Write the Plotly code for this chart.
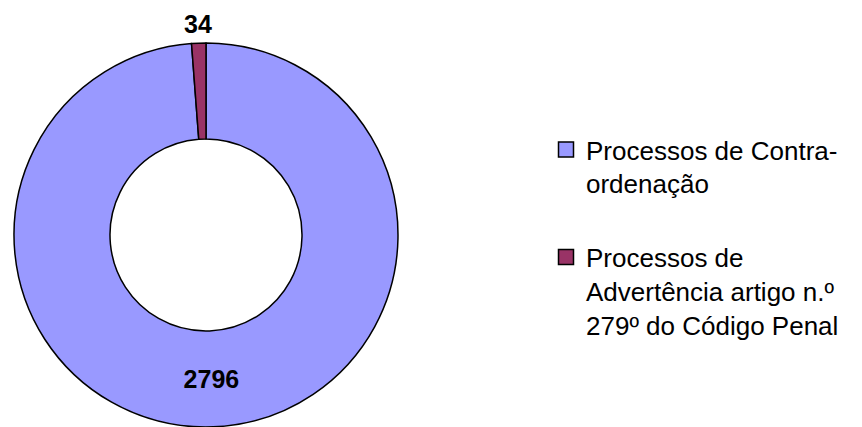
import math
import plotly.graph_objects as go

categories = ["Processos de Contra-<br>ordenação",
              "Processos de<br>Advertência artigo n.º<br>279º do Código Penal"]
values = [2796, 34]
colors = ["#9999FF", "#993366"]

# figure drawn inside the page's default 8px body margin
W, H = 854, 419
cx, cy, R = 198, 227, 192

fig = go.Figure()
fig.add_trace(go.Pie(
    labels=categories, values=values, sort=False, direction="clockwise", rotation=0,
    hole=0.5,
    marker=dict(colors=colors, line=dict(color="black", width=1.5)),
    textinfo="value", textposition=["inside", "none"],
    insidetextorientation="horizontal",
    textfont=dict(family="Liberation Sans, Arial, sans-serif", size=25, color="black", weight="bold"),
    domain=dict(x=[(cx - R) / W, (cx + R) / W],
                y=[max(0, (H - cy - R) / H), (H - cy + R) / H]),
    showlegend=False, hoverinfo="label+value",
))

# legend entries
for i, (lab, col) in enumerate(zip(categories, colors)):
    fig.add_trace(go.Scatter(
        x=[None], y=[None], mode="markers", name=lab, legendgroup=f"g{i}",
        marker=dict(symbol="square", size=15, color=col, line=dict(color="black", width=1.5)),
    ))

# outside label for the small slice
total = sum(values)
mid = (values[0] + values[1] / 2) / total * 2 * math.pi
rl = 211
lx = cx + rl * math.sin(mid)
ly = cy - rl * math.cos(mid)
fig.add_annotation(x=lx / W, y=(H - ly) / H, xref="paper", yref="paper",
                   xanchor="center", yanchor="middle",
                   text=str(values[1]), showarrow=False,
                   font=dict(family="Liberation Sans, Arial, sans-serif", size=25, color="black", weight="bold"))

fig.update_layout(
    width=W, height=H, margin=dict(l=0, r=0, t=0, b=0),
    paper_bgcolor="white", plot_bgcolor="white",
    xaxis=dict(visible=False), yaxis=dict(visible=False),
    legend=dict(x=538 / W, y=(H - 118) / H, xanchor="left", yanchor="top",
                valign="top", tracegroupgap=37,
                font=dict(family="Liberation Sans, Arial, sans-serif", size=26, color="black"),
                bgcolor="rgba(0,0,0,0)"),
)
fig.write_html("out.html")
